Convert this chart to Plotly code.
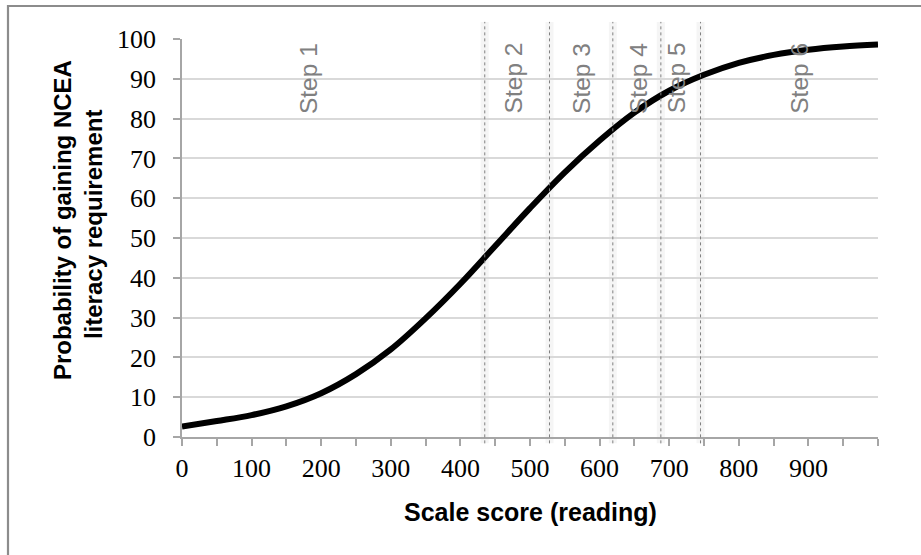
import plotly.graph_objects as go

# Data
scale_score = [0, 50, 100, 150, 200, 250, 300, 350, 400, 450, 500, 550, 600,
               650, 700, 750, 800, 850, 900, 950, 1000]
probability = [2.6, 4.0, 5.5, 7.7, 11.0, 15.8, 22.0, 29.8, 38.5, 48.0, 57.5,
               66.5, 74.5, 81.5, 87.0, 91.0, 94.0, 96.0, 97.3, 98.1, 98.6]

step_boundaries = [435, 528, 619, 688, 745]
step_labels = ["Step 1", "Step 2", "Step 3", "Step 4", "Step 5", "Step 6"]
step_label_x = [181, 476, 573, 655, 710, 886]

x_tick_vals = list(range(0, 1001, 50))
x_tick_text = [str(v) if (v % 100 == 0 and v < 1000) else "" for v in x_tick_vals]
y_tick_vals = list(range(0, 101, 10))

fig = go.Figure()

fig.add_trace(go.Scatter(
    x=scale_score, y=probability, mode="lines",
    line=dict(color="black", width=6, shape="spline", smoothing=1.0),
    hoverinfo="skip", showlegend=False,
))

shapes = []
for b in step_boundaries:
    shapes.append(dict(type="line", xref="x", yref="paper", x0=b, x1=b,
                       y0=-0.016, y1=1.043,
                       line=dict(color="rgba(160,160,160,0.10)", width=8),
                       layer="below"))
    shapes.append(dict(type="line", xref="x", yref="paper", x0=b, x1=b,
                       y0=-0.016, y1=1.043,
                       line=dict(color="#808080", width=1, dash="dot")))

# chart-area border (partially cut off at right/bottom)
shapes.append(dict(type="rect", xref="paper", yref="paper",
                   x0=-0.25, x1=1.08, y0=-0.32, y1=1.0829,
                   line=dict(color="#8c8c8c", width=2.2)))

annotations = []
for lab, xv in zip(step_labels, step_label_x):
    annotations.append(dict(x=xv, y=99.6, xref="x", yref="y", text=lab,
                            textangle=-90, showarrow=False,
                            xanchor="center", yanchor="top",
                            font=dict(family="Liberation Sans, Arial", size=24.5,
                                      color="#808080")))

annotations.append(dict(x=-0.1724, y=0.545, xref="paper", yref="paper",
                        text="<b>Probability of gaining NCEA</b>", textangle=-90,
                        showarrow=False, xanchor="center", yanchor="middle",
                        font=dict(family="Liberation Sans, Arial", size=24, color="black")))
annotations.append(dict(x=-0.1279, y=0.535, xref="paper", yref="paper",
                        text="<b>literacy requirement</b>", textangle=-90,
                        showarrow=False, xanchor="center", yanchor="middle",
                        font=dict(family="Liberation Sans, Arial", size=24, color="black")))
annotations.append(dict(x=0.5, y=-0.188, xref="paper", yref="paper",
                        text="<b>Scale score (reading)</b>",
                        showarrow=False, xanchor="center", yanchor="middle",
                        font=dict(family="Liberation Sans, Arial", size=25, color="black")))

fig.update_layout(
    width=921, height=555,
    margin=dict(l=182, r=43, t=39, b=118),
    paper_bgcolor="white", plot_bgcolor="white",
    shapes=shapes, annotations=annotations,
    showlegend=False,
    xaxis=dict(range=[0, 1000], tickvals=x_tick_vals, ticktext=x_tick_text,
               showgrid=False, zeroline=False, showline=True,
               linecolor="#a6a6a6", linewidth=1.5,
               ticks="outside", ticklen=7, tickcolor="#a6a6a6", tickwidth=1.5,
               tickfont=dict(family="Liberation Serif, Times New Roman", size=26, color="black"),
               ticklabelstandoff=0),
    yaxis=dict(range=[0, 100], tickvals=y_tick_vals,
               showgrid=True, gridcolor="#d9d9d9", gridwidth=1.5,
               zeroline=False, showline=True,
               linecolor="#a6a6a6", linewidth=1.5,
               ticks="outside", ticklen=7, tickcolor="#a6a6a6", tickwidth=1.5,
               tickfont=dict(family="Liberation Serif, Times New Roman", size=26, color="black"),
               ticklabelstandoff=12),
)

fig.write_html("out.html", config={"displayModeBar": False},
               post_script="document.body.style.margin='0';")
